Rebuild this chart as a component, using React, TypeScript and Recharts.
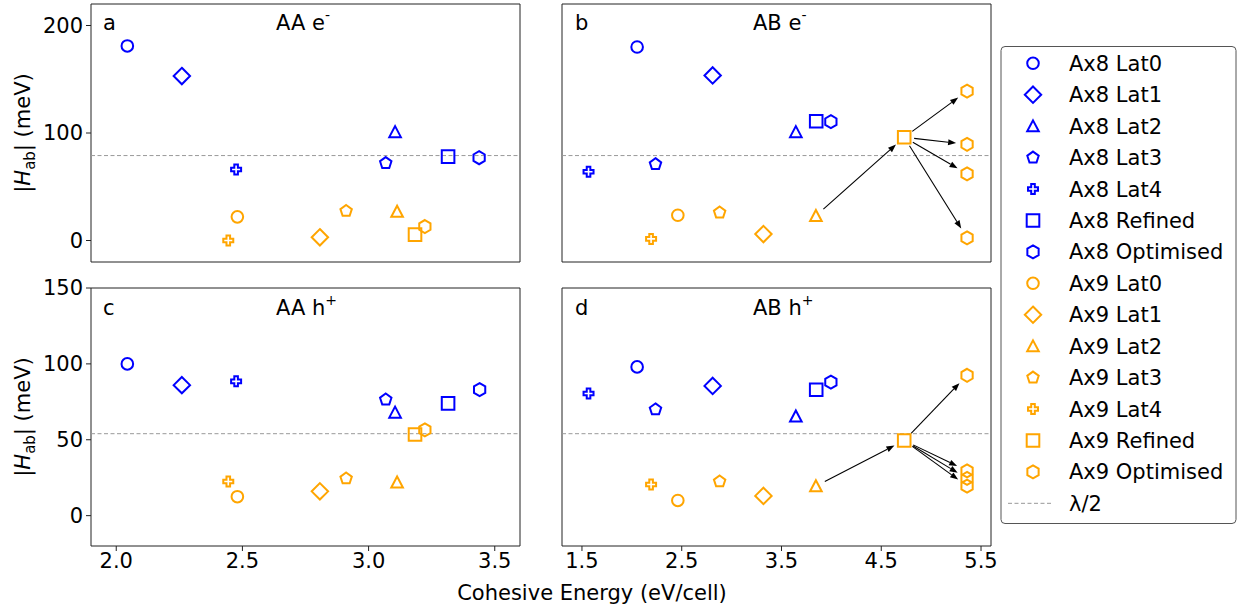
import React from 'react';
import { ScatterChart, Scatter, XAxis, YAxis, ReferenceLine, ReferenceArea } from 'recharts';

const FONT = '"DejaVu Sans", Verdana, sans-serif';
const BLUE = '#0000ff';
const ORANGE = '#ffa500';

const markerNames = ['Lat0', 'Lat1', 'Lat2', 'Lat3', 'Lat4', 'Refined', 'Optimised'];
const markerKinds = ['circle', 'diamond', 'triangle', 'pentagon', 'plus', 'square', 'hexagon'];

// axes
const aaXDomain = [1.9, 3.6];
const aaXTicks = [2.0, 2.5, 3.0, 3.5];
const abXDomain = [1.3, 5.6];
const abXTicks = [1.5, 2.5, 3.5, 4.5, 5.5];
const elecYDomain = [-20, 220];
const elecYTicks = [0, 100, 200];
const holeYDomain = [-20, 150];
const holeYTicks = [0, 50, 100, 150];

// a: AA e-
const aaElecAx8X = [2.044, 2.26, 3.105, 3.068, 2.475, 3.315, 3.438];
const aaElecAx8Y = [181, 153, 101, 72, 66, 78, 77];
const aaElecAx9X = [2.48, 2.807, 3.113, 2.911, 2.444, 3.184, 3.223];
const aaElecAx9Y = [22, 3, 27, 27.5, 0, 5.5, 13];
const aaElecHalfLambda = 79;

// b: AB e-
const abElecAx8X = [2.053, 2.81, 3.644, 2.237, 1.566, 3.848, 3.995];
const abElecAx8Y = [180, 153.5, 101, 71, 64, 111, 110.5];
const abElecAx9X = [2.461, 3.319, 3.845, 2.88, 2.193, 4.73];
const abElecAx9Y = [23.5, 6, 23, 26, 1.5, 96];
const abElecAx9OptX = [5.36, 5.36, 5.36, 5.36];
const abElecAx9OptY = [139, 89.5, 62, 2.5];
const abElecHalfLambda = 79;

// c: AA h+
const aaHoleAx8X = [2.044, 2.26, 3.105, 3.068, 2.475, 3.315, 3.44];
const aaHoleAx8Y = [100, 86, 68, 76.5, 88.5, 74, 83];
const aaHoleAx9X = [2.48, 2.807, 3.113, 2.911, 2.444, 3.184, 3.223];
const aaHoleAx9Y = [12.5, 16, 22, 24.5, 22.5, 53.5, 56.5];
const aaHoleHalfLambda = 54;

// d: AB h+
const abHoleAx8X = [2.053, 2.81, 3.644, 2.237, 1.566, 3.848, 3.995];
const abHoleAx8Y = [98, 85.5, 65.5, 70, 80.5, 83, 88];
const abHoleAx9X = [2.461, 3.319, 3.845, 2.88, 2.193, 4.73];
const abHoleAx9Y = [10, 13, 19.5, 22.5, 20.5, 49.5];
const abHoleAx9OptX = [5.36, 5.36, 5.36, 5.36];
const abHoleAx9OptY = [92.5, 29.5, 24.5, 19.5];
const abHoleHalfLambda = 54;

type Pt = { x: number; y: number };
const zip = (xs: number[], ys: number[]): Pt[] => xs.map((x, i) => ({ x, y: ys[i] }));

function markerPath(kind: string, cx: number, cy: number) {
  const poly = (n: number, r: number, rot: number) =>
    Array.from({ length: n }, (_, i) => {
      const a = rot + (i * 2 * Math.PI) / n;
      return `${cx + r * Math.sin(a)},${cy - r * Math.cos(a)}`;
    }).join(' ');
  switch (kind) {
    case 'diamond':
      return poly(4, 8.2, 0);
    case 'triangle':
      return `${cx},${cy - 5.8} ${cx + 5.8},${cy + 5.2} ${cx - 5.8},${cy + 5.2}`;
    case 'pentagon':
      return poly(5, 6, 0);
    case 'plus': {
      const s = 5, a = 1.8;
      const pts = [[-a, -s], [a, -s], [a, -a], [s, -a], [s, a], [a, a], [a, s], [-a, s], [-a, a], [-s, a], [-s, -a], [-a, -a]];
      return pts.map(([x, y]) => `${cx + x},${cy + y}`).join(' ');
    }
    case 'square':
      return `${cx - 6.3},${cy - 6.3} ${cx + 6.3},${cy - 6.3} ${cx + 6.3},${cy + 6.3} ${cx - 6.3},${cy + 6.3}`;
    case 'hexagon':
      return poly(6, 6.5, 0);
    default:
      return '';
  }
}

function Marker({ kind, cx, cy, color }: { kind: string; cx: number; cy: number; color: string }) {
  if (kind === 'circle') {
    return <circle cx={cx} cy={cy} r={5.8} fill="none" stroke={color} strokeWidth={2} />;
  }
  return <polygon points={markerPath(kind, cx, cy)} fill="none" stroke={color} strokeWidth={2} strokeLinejoin="miter" />;
}

const ArrowShape = (p: any) => {
  const { x1, y1, x2, y2 } = p;
  const dx = x2 - x1;
  const dy = y2 - y1;
  const len = Math.hypot(dx, dy) || 1;
  const ux = dx / len;
  const uy = dy / len;
  const sx = x1 + ux * 10;
  const sy = y1 + uy * 10;
  const ex = x2 - ux * 11;
  const ey = y2 - uy * 11;
  const hl = 8;
  const hw = 3;
  const bx = ex - ux * hl;
  const by = ey - uy * hl;
  return (
    <g>
      <line x1={sx} y1={sy} x2={bx} y2={by} stroke="#000" strokeWidth={1.1} />
      <polygon points={`${ex},${ey} ${bx - uy * hw},${by + ux * hw} ${bx + uy * hw},${by - ux * hw}`} fill="#000" />
    </g>
  );
};

interface PanelProps {
  left: number;
  top: number;
  width: number;
  height: number;
  marginTop: number;
  marginRight: number;
  yAxisWidth: number;
  xAxisHeight: number;
  xDomain: number[];
  xTicks: number[];
  yDomain: number[];
  yTicks: number[];
  showXLabels: boolean;
  showYLabels: boolean;
  ax8: Pt[];
  ax9: Pt[];
  ax9Opt?: Pt[];
  halfLambda: number;
}

function Panel(props: PanelProps) {
  const { ax8, ax9, ax9Opt } = props;
  const tickStyle = { fill: '#000', fontSize: 21, fontFamily: FONT };

  // arrows: Lat2 -> Refined, Refined -> each optimised
  const arrows: [Pt, Pt][] = [];
  if (ax9Opt) {
    arrows.push([ax9[2], ax9[5]]);
    ax9Opt.forEach((o) => arrows.push([ax9[5], o]));
  }

  return (
    <div style={{ position: 'absolute', left: props.left, top: props.top }}>
      <ScatterChart
        width={props.width}
        height={props.height}
        margin={{ top: props.marginTop, right: props.marginRight, left: 0, bottom: 0 }}
      >
        <XAxis
          type="number"
          dataKey="x"
          domain={props.xDomain}
          ticks={props.xTicks}
          allowDataOverflow
          height={props.xAxisHeight}
          axisLine={false}
          tickSize={5}
          tickMargin={2}
          tickLine={{ stroke: '#222' }}
          tick={props.showXLabels ? tickStyle : false}
          tickFormatter={(v: number) => v.toFixed(1)}
        />
        <YAxis
          type="number"
          dataKey="y"
          domain={props.yDomain}
          ticks={props.yTicks}
          allowDataOverflow
          width={props.yAxisWidth}
          axisLine={false}
          tickSize={5}
          tickMargin={3}
          tickLine={{ stroke: '#222' }}
          tick={props.showYLabels ? tickStyle : false}
        />
        <ReferenceArea
          x1={props.xDomain[0]}
          x2={props.xDomain[1]}
          y1={props.yDomain[0]}
          y2={props.yDomain[1]}
          fill="none"
          fillOpacity={0}
          stroke="#222"
          strokeWidth={1}
          ifOverflow="visible"
        />
        <ReferenceLine y={props.halfLambda} stroke="#999" strokeWidth={1} strokeDasharray="4 2.5" />
        {arrows.map(([a, b], i) => (
          <ReferenceLine key={`arr${i}`} segment={[{ x: a.x, y: a.y }, { x: b.x, y: b.y }]} shape={ArrowShape} ifOverflow="visible" />
        ))}
        {markerNames.map((m, i) => (
          <Scatter
            key={`ax8${m}`}
            name={`Ax8 ${m}`}
            data={[ax8[i]]}
            isAnimationActive={false}
            shape={(p: any) => <Marker kind={markerKinds[i]} cx={p.cx} cy={p.cy} color={BLUE} />}
          />
        ))}
        {markerNames.map((m, i) => (
          <Scatter
            key={`ax9${m}`}
            name={`Ax9 ${m}`}
            data={i === 6 && ax9Opt ? ax9Opt : [ax9[i]]}
            isAnimationActive={false}
            shape={(p: any) => <Marker kind={markerKinds[i]} cx={p.cx} cy={p.cy} color={ORANGE} />}
          />
        ))}
      </ScatterChart>
    </div>
  );
}

function Overlay() {
  const legendTop = 63.3;
  const legendStep = 31.43;
  const entries = [
    ...markerNames.map((m, i) => ({ label: `Ax8 ${m}`, kind: markerKinds[i], color: BLUE })),
    ...markerNames.map((m, i) => ({ label: `Ax9 ${m}`, kind: markerKinds[i], color: ORANGE })),
  ];
  const txt = { fontFamily: FONT, fontSize: 21, fill: '#000' };
  const yLabel = (cy: number) => (
    <text x={30} y={cy} transform={`rotate(-90, 30, ${cy})`} textAnchor="middle" {...txt}>
      |<tspan fontStyle="italic">H</tspan>
      <tspan fontSize={15} dy={5}>ab</tspan>
      <tspan dy={-5}>| (meV)</tspan>
    </text>
  );
  return (
    <svg width={1245} height={612} style={{ position: 'absolute', left: 0, top: 0, pointerEvents: 'none' }}>
      <text x={103} y={30} {...txt}>a</text>
      <text x={575} y={30} {...txt}>b</text>
      <text x={103} y={315} {...txt}>c</text>
      <text x={575} y={315} {...txt}>d</text>
      <text x={276} y={30} {...txt}>AA e<tspan fontSize={14} dy={-10}>-</tspan></text>
      <text x={753} y={30} {...txt}>AB e<tspan fontSize={14} dy={-10}>-</tspan></text>
      <text x={276} y={315} {...txt}>AA h<tspan fontSize={14} dy={-10}>+</tspan></text>
      <text x={753} y={315} {...txt}>AB h<tspan fontSize={14} dy={-10}>+</tspan></text>
      {yLabel(133)}
      {yLabel(417)}
      <text x={592} y={600} textAnchor="middle" {...txt}>Cohesive Energy (eV/cell)</text>

      <rect x={1001} y={46.5} width={235} height={477} rx={4} fill="#fff" stroke="#555" strokeWidth={1} />
      {entries.map((e, i) => {
        const cy = legendTop + i * legendStep;
        return (
          <g key={e.label}>
            <Marker kind={e.kind} cx={1033} cy={cy} color={e.color} />
            <text x={1069} y={cy + 7.5} {...txt}>{e.label}</text>
          </g>
        );
      })}
      <line
        x1={1008}
        x2={1052}
        y1={legendTop + 14 * legendStep}
        y2={legendTop + 14 * legendStep}
        stroke="#999"
        strokeWidth={1}
        strokeDasharray="4 2.5"
      />
      <text x={1069} y={legendTop + 14 * legendStep + 7.5} {...txt}>λ/2</text>
    </svg>
  );
}

export default function App() {
  return (
    <div style={{ position: 'absolute', left: 0, top: 0, width: 1245, height: 612, background: '#fff' }}>
      <Panel
        left={0} top={0} width={525} height={270} marginTop={4} marginRight={5} yAxisWidth={91} xAxisHeight={8}
        xDomain={aaXDomain} xTicks={aaXTicks} yDomain={elecYDomain} yTicks={elecYTicks}
        showXLabels={false} showYLabels
        ax8={zip(aaElecAx8X, aaElecAx8Y)} ax9={zip(aaElecAx9X, aaElecAx9Y)}
        halfLambda={aaElecHalfLambda}
      />
      <Panel
        left={525} top={0} width={490} height={270} marginTop={4} marginRight={24} yAxisWidth={37} xAxisHeight={8}
        xDomain={abXDomain} xTicks={abXTicks} yDomain={elecYDomain} yTicks={elecYTicks}
        showXLabels={false} showYLabels={false}
        ax8={zip(abElecAx8X, abElecAx8Y)} ax9={zip(abElecAx9X, abElecAx9Y)}
        ax9Opt={zip(abElecAx9OptX, abElecAx9OptY)}
        halfLambda={abElecHalfLambda}
      />
      <Panel
        left={0} top={270} width={525} height={310} marginTop={18} marginRight={5} yAxisWidth={91} xAxisHeight={34}
        xDomain={aaXDomain} xTicks={aaXTicks} yDomain={holeYDomain} yTicks={holeYTicks}
        showXLabels showYLabels
        ax8={zip(aaHoleAx8X, aaHoleAx8Y)} ax9={zip(aaHoleAx9X, aaHoleAx9Y)}
        halfLambda={aaHoleHalfLambda}
      />
      <Panel
        left={525} top={270} width={490} height={310} marginTop={18} marginRight={24} yAxisWidth={37} xAxisHeight={34}
        xDomain={abXDomain} xTicks={abXTicks} yDomain={holeYDomain} yTicks={holeYTicks}
        showXLabels showYLabels={false}
        ax8={zip(abHoleAx8X, abHoleAx8Y)} ax9={zip(abHoleAx9X, abHoleAx9Y)}
        ax9Opt={zip(abHoleAx9OptX, abHoleAx9OptY)}
        halfLambda={abHoleHalfLambda}
      />
      <Overlay />
    </div>
  );
}
